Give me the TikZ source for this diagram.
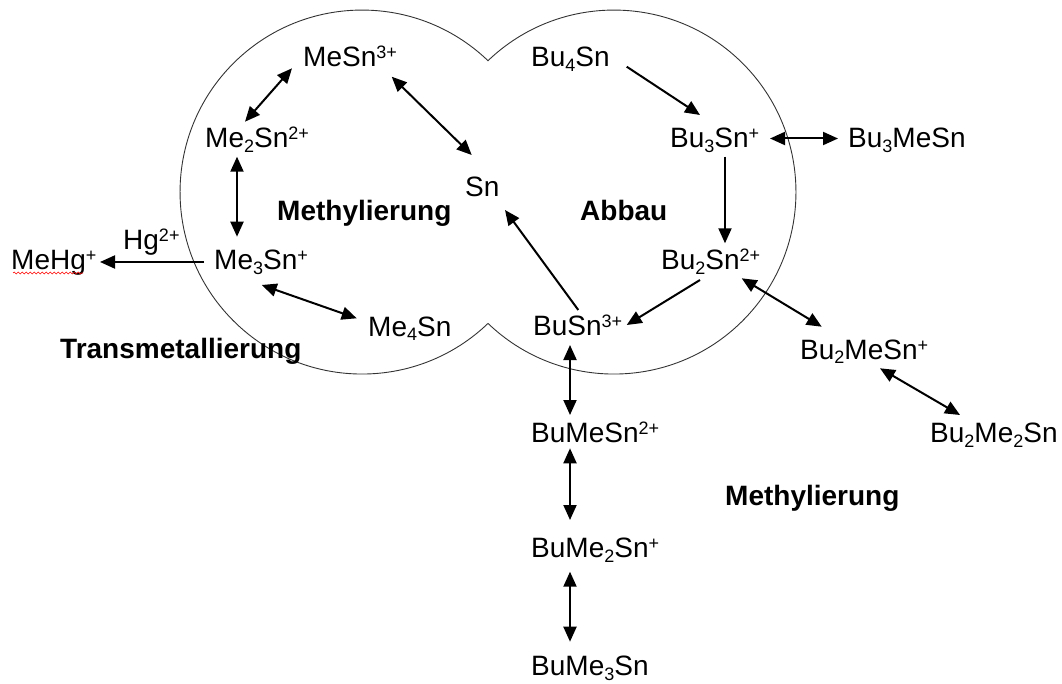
\documentclass[tikz,border=0pt]{standalone}
\usepackage{fontspec}
\setmainfont{Liberation Sans}
\usetikzlibrary{arrows.meta,calc,decorations.pathmorphing}

% chemical sub- and superscripts
\newcommand\chsub[1]{\raisebox{-5pt}{\fontsize{18}{18}\selectfont #1}}
\newcommand\chsup[1]{\raisebox{8pt}{\fontsize{18}{18}\selectfont #1}}

\tikzset{
  species/.style={inner sep=0pt, anchor=base west, font=\fontsize{28}{32}\selectfont},
  heading/.style={inner sep=0pt, anchor=base west, font=\fontsize{28}{32}\selectfont\bfseries},
  arr/.style={line width=2pt, -{Triangle[length=15pt,width=13pt]}},
  biarr/.style={line width=2pt, {Triangle[length=15pt,width=13pt]}-{Triangle[length=15pt,width=13pt]}},
  outline/.style={line width=0.9pt, draw=black!80},
}

\begin{document}
\begin{tikzpicture}[x=1pt,y=1pt]
\useasboundingbox (0,0) rectangle (1062,-684);

% two merged compartments
\draw[outline] (488,-60.7)
  arc[start angle=46.2, end angle=313.8, radius=182]
  arc[start angle=-133.8, end angle=133.8, radius=182] -- cycle;

% methyl tin species
\node[species] (MeSn)  at (303,-67)  {MeSn\chsup{3+}};
\node[species] (MeiiSn) at (205,-148) {Me\chsub{2}Sn\chsup{2+}};
\node[species] (Sn)    at (465,-197) {Sn};
\node[species] (MeiiiSn) at (214,-270) {Me\chsub{3}Sn\chsup{+}};
\node[species] (MeivSn) at (368,-336) {Me\chsub{4}Sn};
\node[species] (MeHg)  at (11,-270)  {MeHg\chsup{+}};
\node[species] (Hg)    at (123,-250) {Hg\chsup{2+}};

% butyl tin species
\node[species] (BuivSn)  at (531,-67)  {Bu\chsub{4}Sn};
\node[species] (BuiiiSn) at (670,-148) {Bu\chsub{3}Sn\chsup{+}};
\node[species] (BuiiiMeSn) at (848,-148) {Bu\chsub{3}MeSn};
\node[species] (BuiiSn)  at (661,-270) {Bu\chsub{2}Sn\chsup{2+}};
\node[species] (BuSn)    at (533,-335) {BuSn\chsup{3+}};
\node[species] (BuiiMeSn) at (800,-359) {Bu\chsub{2}MeSn\chsup{+}};
\node[species] (BuiiMeiiSn) at (930,-442) {Bu\chsub{2}Me\chsub{2}Sn};
\node[species] (BuMeSn)  at (531,-442) {BuMeSn\chsup{2+}};
\node[species] (BuMeiiSn) at (531,-557) {BuMe\chsub{2}Sn\chsup{+}};
\node[species] (BuMeiiiSn) at (531,-675) {BuMe\chsub{3}Sn};

% process headings
\node[heading] (meth1) at (277,-221) {Methylierung};
\node[heading] (abbau) at (580,-221) {Abbau};
\node[heading] (meth2) at (725,-505) {Methylierung};
\node[heading] (trans) at (60,-358)  {Transmetallierung};

% methylation cycle
\draw[biarr] ($(MeSn.base west)+(-11,-1.3)$) -- ($(MeiiSn.base west)+(40,26.3)$);
\draw[biarr] ($(MeiiSn.base west)+(32,-8.7)$) -- ($(MeiiiSn.base west)+(23,33.3)$);
\draw[biarr] ($(MeiiiSn.base west)+(47.7,-15)$) -- ($(MeivSn.base west)+(-11.3,17.7)$);
\draw[biarr] ($(MeSn.base west)+(88.7,-9.7)$) -- ($(Sn.base west)+(6.7,42)$);
\draw[arr] ($(MeiiiSn.base west)+(-10,8)$) -- ($(MeHg.base west)+(89,8)$);

% degradation chain
\draw[arr] ($(BuivSn.base west)+(95.7,0.3)$) -- ($(BuiiiSn.base west)+(30,33)$);
\draw[arr] ($(BuiiiSn.base west)+(55,-8.7)$) -- ($(BuiiSn.base west)+(64,26.7)$);
\draw[arr] ($(BuiiSn.base west)+(39,-10)$) -- ($(BuSn.base west)+(93.7,10)$);
\draw[arr] ($(BuSn.base west)+(45.3,25)$) -- ($(Sn.base west)+(40,-13)$);

% methylation of butyl species
\draw[biarr] ($(BuiiiSn.base west)+(100,9.5)$) -- ($(BuiiiMeSn.base west)+(-10,9.5)$);
\draw[biarr] ($(BuiiSn.base west)+(80.7,-8.3)$) -- ($(BuiiMeSn.base west)+(21.7,32.3)$);
\draw[biarr] ($(BuiiMeSn.base west)+(80,-9.3)$) -- ($(BuiiMeiiSn.base west)+(30,27)$);
\draw[biarr] ($(BuSn.base west)+(37,-10)$) -- ($(BuMeSn.base west)+(39,27)$);
\draw[biarr] ($(BuMeSn.base west)+(39,-6.3)$) -- ($(BuMeiiSn.base west)+(39,37)$);
\draw[biarr] ($(BuMeiiSn.base west)+(39,-14.7)$) -- ($(BuMeiiiSn.base west)+(39,33.3)$);

% spell-check underline
\draw[red, line width=0.6pt, decorate, decoration={snake, amplitude=0.9pt, segment length=4pt}]
  ($(MeHg.base west)+(2,-3)$) -- ($(MeHg.base west)+(72,-3)$);
\end{tikzpicture}
\end{document}
